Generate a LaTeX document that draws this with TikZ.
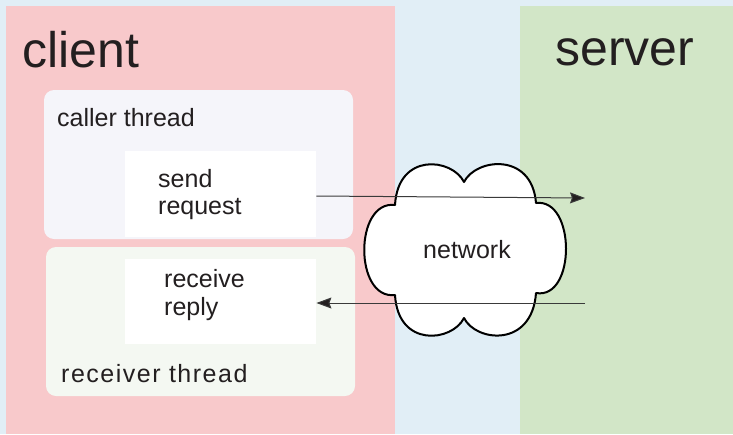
\documentclass[tikz,border=0pt]{standalone}
\usepackage{fontspec}
\setmainfont{Liberation Sans}
\usetikzlibrary{arrows.meta}

\definecolor{bgblue}{HTML}{E1EEF6}
\definecolor{clientpink}{HTML}{F8C9CB}
\definecolor{servergreen}{HTML}{D2E6C7}
\definecolor{callerfill}{HTML}{F5F5FA}
\definecolor{receiverfill}{HTML}{F4F8F2}
\definecolor{ink}{HTML}{231F20}
\definecolor{wire}{HTML}{3A3A3A}

\tikzset{
  panel/.style={fill=#1, draw=none},
  threadbox/.style={fill=#1, draw=none, rounded corners=10pt},
  taskbox/.style={fill=white, draw=none},
  bigtitle/.style={anchor=base west, inner sep=0pt, text=ink,
    font=\fontsize{50}{55}\selectfont},
  label/.style={anchor=base west, inner sep=0pt, text=ink,
    font=\fontsize{25}{27}\selectfont},
  msg/.style={draw=wire, line width=1pt,
    -{Stealth[length=15pt,width=11pt,inset=2pt,fill=ink]}},
}

\begin{document}
\begin{tikzpicture}[x=1pt,y=-1pt]
  % canvas
  \fill[bgblue] (0,0) rectangle (733,434);
  \useasboundingbox (0,0) rectangle (733,434);

  % client and server panels
  \fill[panel=clientpink] (6,6) rectangle (395,434);
  \fill[panel=servergreen] (520,6) rectangle (733,434);
  \node[bigtitle] (clienttitle) at (22,67) {client};
  \node[bigtitle] (servertitle) at (555,65) {server};

  % caller thread
  \fill[threadbox=callerfill] (44,90) rectangle (353,239);
  \node[label] (callerlbl) at (57,126) {caller thread};
  \node[taskbox, minimum width=191pt, minimum height=86pt, inner sep=0pt,
        anchor=north west] (send) at (125,151) {};
  \node[label] (sendl1) at (158,187) {send};
  \node[label] (sendl2) at (158,214) {request};

  % receiver thread
  \fill[threadbox=receiverfill] (46,247) rectangle (355,396);
  \node[label, font=\fontsize{25}{27}\selectfont\addfontfeature{LetterSpace=6}]
        (receiverlbl) at (61,382) {receiver thread};
  \node[taskbox, minimum width=191pt, minimum height=85pt, inner sep=0pt,
        anchor=north west] (recv) at (125,259) {};
  \node[label] (recvl1) at (164,287) {receive};
  \node[label] (recvl2) at (164,315) {reply};

  % network cloud
  \draw[fill=white, draw=black, line width=2pt, line join=round]
    (464,182)
    .. controls (452,158) and (398,152) .. (395,205)
    .. controls (354,200) and (354,300) .. (395,295)
    .. controls (398,348) and (452,342) .. (464,318)
    .. controls (476,342) and (532,348) .. (536,293)
    .. controls (576,300) and (576,198) .. (536,203)
    .. controls (532,152) and (476,158) .. (464,182) -- cycle;
  \node[label, anchor=base] (net) at (467,258) {network};

  % message wires
  \coordinate (reqend) at (585,198);
  \coordinate (repstart) at (585,303);
  \draw[msg] (send.east |- 0,196) -- (reqend);
  \draw[msg] (repstart) -- (recv.east |- 0,303);
\end{tikzpicture}
\end{document}
